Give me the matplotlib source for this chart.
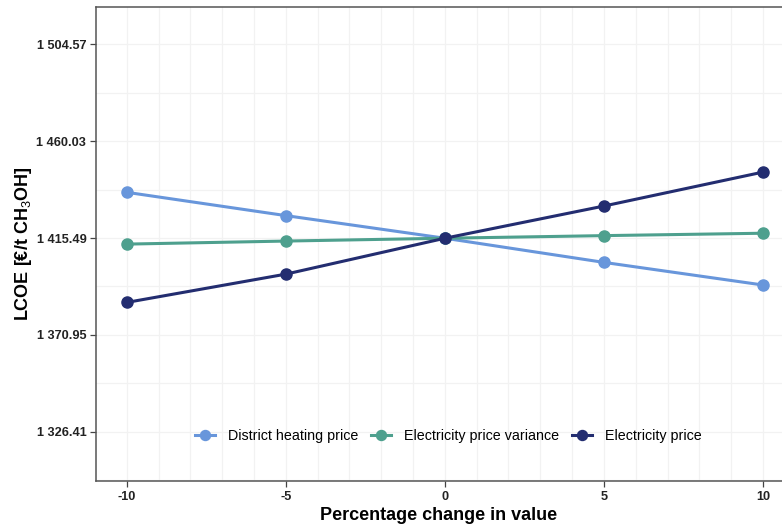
import numpy as np
import matplotlib
matplotlib.use('Agg')
import matplotlib.pyplot as plt
from matplotlib.ticker import MultipleLocator

plt.rcParams['font.family'] = ['Liberation Sans', 'DejaVu Sans']
plt.rcParams['mathtext.fontset'] = 'custom'
plt.rcParams['mathtext.rm'] = 'Liberation Sans'
plt.rcParams['mathtext.bf'] = 'Liberation Sans:bold'
plt.rcParams['axes.unicode_minus'] = False

# percentage change in each input
pct = [-10, -5, 0, 5, 10]
district_heating = [1436.5, 1425.8, 1415.4, 1404.3, 1393.9]
elec_variance = [1412.7, 1414.1, 1415.4, 1416.6, 1417.7]
elec_price = [1385.9, 1398.9, 1415.4, 1430.2, 1445.8]

series = ['District heating price', 'Electricity price variance', 'Electricity price']
colors = ['#6896DB', '#4EA08E', '#232D70']

yticks = [1326.41, 1370.95, 1415.49, 1460.03, 1504.57]
ytick_labels = ['1 326.41', '1 370.95', '1 415.49', '1 460.03', '1 504.57']
xticks = [-10, -5, 0, 5, 10]

fig = plt.figure(figsize=(7.82, 5.25), dpi=100)
ax = fig.add_axes([96/782, 1 - 481/525, 1 - 96/782, 474/525])

for vals, name, c in zip([district_heating, elec_variance, elec_price], series, colors):
    ax.plot(pct, vals, color=c, lw=2.2, marker='o', ms=8, label=name)

ax.set_xticks(xticks)
ax.set_yticks(yticks)
ax.set_yticklabels(ytick_labels)
ax.xaxis.set_minor_locator(MultipleLocator(1))
ax.set_yticks([(a + b) / 2 for a, b in zip(yticks[:-1], yticks[1:])] + [yticks[0] - 22.27], minor=True)
ax.set_xlim(-10.97, 10.6)
ax.set_ylim(1303.8, 1521.7)
ax.grid(True, which='both', color='#F2F2F2', lw=0.9)
ax.set_axisbelow(True)
ax.tick_params(which='minor', length=0)
ax.tick_params(which='major', length=4, color='#444444', width=0.9, labelsize=9.2, pad=3)
for lab in ax.get_xticklabels() + ax.get_yticklabels():
    lab.set_fontweight('bold')
    lab.set_color('#222222')
for side in ['left', 'bottom', 'top']:
    ax.spines[side].set_color('#555555')
    ax.spines[side].set_linewidth(1.1)
ax.spines['right'].set_visible(False)

ax.set_xlabel('Percentage change in value', fontsize=13, fontweight='bold', labelpad=3)
ax.set_ylabel(r'LCOE [€/t CH$_3$OH]', fontsize=13, fontweight='bold', labelpad=2)

ax.legend(loc='center', bbox_to_anchor=(0.514, 0.095), ncol=3, frameon=False,
          fontsize=10.3, handlelength=1.4, columnspacing=0.9, handletextpad=0.9,
          markerscale=0.9)

fig.savefig('out.png', dpi=100)
